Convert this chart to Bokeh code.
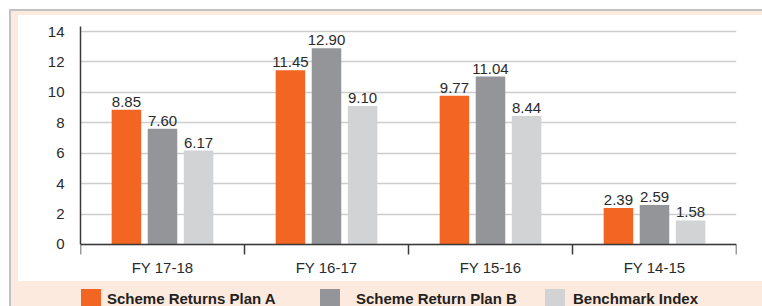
from bokeh.plotting import figure
from bokeh.models import (ColumnDataSource, Range1d, LinearAxis,
                          FixedTicker, Legend, LegendItem)
from bokeh.transform import dodge
from bokeh.embed import file_html
from bokeh.resources import INLINE

# ---- data ----
categories = ["FY 17-18", "FY 16-17", "FY 15-16", "FY 14-15"]
plan_a = [8.85, 11.45, 9.77, 2.39]
plan_b = [7.60, 12.90, 11.04, 2.59]
benchmark = [6.17, 9.10, 8.44, 1.58]
series_names = ["Scheme Returns Plan A", "Scheme Return Plan B", "Benchmark Index"]
y_ticks = [0, 2, 4, 6, 8, 10, 12, 14]

# ---- style ----
FONT = "Liberation Sans"
TEXT = "#2a2a2a"
AXIS = "#3a3a3a"
colors = ["#f26522", "#939598", "#d1d3d4"]

n = len(categories)
centers = [i + 0.5 for i in range(n)]
bounds = list(range(n + 1))

src = ColumnDataSource(dict(
    xc=centers,
    a=plan_a, b=plan_b, c=benchmark,
    a_lbl=[f"{v:.2f}" for v in plan_a],
    b_lbl=[f"{v:.2f}" for v in plan_b],
    c_lbl=[f"{v:.2f}" for v in benchmark],
))

p = figure(width=762, height=306,
           x_range=Range1d(0, n),
           y_range=Range1d(-4.08, 14.33),
           x_axis_location=None,
           output_backend="svg", toolbar_location=None,
           min_border_left=80, min_border_right=26,
           min_border_top=26, min_border_bottom=0,
           background_fill_alpha=0,
           border_fill_alpha=0,
           outline_line_color=None)

p.styles = {
    "background-image": "linear-gradient(#ffffff,#ffffff), linear-gradient(#fdeadf,#fdeadf), linear-gradient(#c2c2c2,#c2c2c2)",
    "background-position": "18px 15px, 11px 11px, 9px 9px",
    "background-size": "744px 266px, 751px 295px, 753px 297px",
    "background-repeat": "no-repeat",
}

p.xgrid.grid_line_color = None
p.ygrid.grid_line_color = "#cdcdcd"
p.ygrid.grid_line_width = 1.5
p.ygrid.ticker = FixedTicker(ticks=y_ticks)

yax = p.yaxis[0]
yax.ticker = FixedTicker(ticks=y_ticks)
yax.bounds = (0, 14.33)
yax.axis_line_color = AXIS
yax.axis_line_width = 1.5
yax.major_tick_line_color = None
yax.minor_tick_line_color = None
yax.major_tick_out = 0
yax.major_label_standoff = 16
yax.major_label_text_font = FONT
yax.major_label_text_font_size = "15px"
yax.major_label_text_color = TEXT

# category axis drawn at y = 0: labels at category centres, ticks at boundaries
xax = LinearAxis(ticker=FixedTicker(ticks=centers, minor_ticks=bounds),
                 fixed_location=0,
                 major_label_overrides={c: cat for c, cat in zip(centers, categories)},
                 axis_line_color=AXIS, axis_line_width=1.5,
                 major_tick_line_color=None, major_tick_out=0, major_tick_in=0,
                 minor_tick_line_color=AXIS, minor_tick_line_width=1.5,
                 minor_tick_out=10, minor_tick_in=0,
                 major_label_standoff=5,
                 major_label_text_font=FONT,
                 major_label_text_font_size="15px",
                 major_label_text_color=TEXT)
p.add_layout(xax, "below")

offsets = [-0.22, 0.0, 0.22]
fields = ["a", "b", "c"]
renderers = []
for off, f, col in zip(offsets, fields, colors):
    r = p.vbar(x=dodge("xc", off), top=f, width=0.18,
               source=src, fill_color=col, line_color=None)
    renderers.append(r)
    p.text(x=dodge("xc", off), y=f, text=f + "_lbl",
           source=src, text_align="center", text_baseline="alphabetic",
           y_offset=-8, text_font={"value": FONT}, text_font_size="15px",
           text_color=TEXT)

leg_pos = [(-2, 4), (237, 14), (462, 6)]
for name, r, (lx, standoff) in zip(series_names, renderers, leg_pos):
    leg = Legend(items=[LegendItem(label=name, renderers=[r])],
                 location=(lx, -5), orientation="horizontal",
                 glyph_width=25, glyph_height=25, label_standoff=standoff,
                 padding=0, margin=0, spacing=0,
                 border_line_color=None, background_fill_alpha=0,
                 label_text_font=FONT, label_text_font_size="15px",
                 label_text_font_style="bold", label_text_color="#231f20")
    p.add_layout(leg)

open("out.html", "w").write(file_html(p, INLINE))
